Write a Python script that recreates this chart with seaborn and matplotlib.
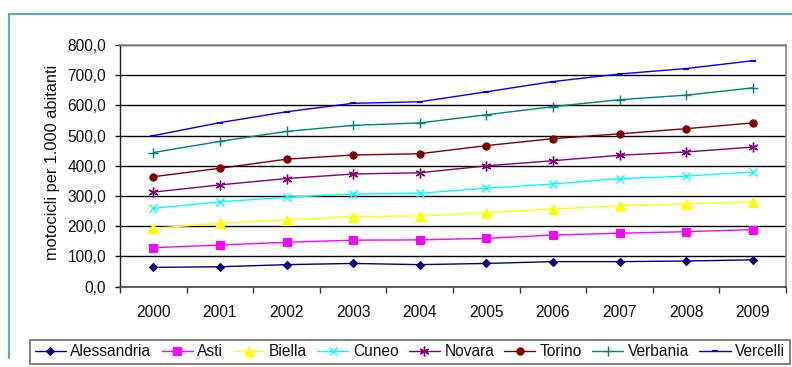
import matplotlib
matplotlib.use("Agg")
import matplotlib.pyplot as plt
from matplotlib.lines import Line2D
import seaborn as sns
import pandas as pd

# --- data: motorcycles per 1,000 inhabitants, Piedmont provinces ---
anni = [2000, 2001, 2002, 2003, 2004, 2005, 2006, 2007, 2008, 2009]

alessandria = [64, 66, 73, 77, 73, 77, 83, 83, 85, 89]
asti = [129, 138, 147, 154, 155, 160, 171, 177, 182, 189]
biella = [193, 210, 221, 232, 234, 245, 257, 268, 274, 281]
cuneo = [259, 281, 296, 307, 309, 326, 340, 358, 366, 380]
novara = [313, 337, 358, 373, 377, 400, 417, 435, 446, 462]
torino = [364, 392, 422, 436, 440, 467, 490, 506, 523, 542]
verbania = [444, 481, 514, 534, 542, 569, 596, 619, 634, 658]
vercelli = [500, 543, 579, 607, 612, 645, 679, 704, 722, 748]

province = ["Alessandria", "Asti", "Biella", "Cuneo",
            "Novara", "Torino", "Verbania", "Vercelli"]
valori = [alessandria, asti, biella, cuneo, novara, torino, verbania, vercelli]

y_ticks = [0, 100, 200, 300, 400, 500, 600, 700, 800]
y_labels = ["0,0", "100,0", "200,0", "300,0", "400,0",
            "500,0", "600,0", "700,0", "800,0"]
y_title = "motocicli per 1.000 abitanti"

df = pd.DataFrame({p: v for p, v in zip(province, valori)}, index=anni)
df.index.name = "anno"
long_df = df.reset_index().melt(id_vars="anno", var_name="provincia",
                                value_name="valore")

# --- styling per series (Excel classic palette) ---
stili = {
    "Alessandria": dict(color="#000080", marker="D", ms=4.2, mew=0.8),
    "Asti":        dict(color="#FF00FF", marker="s", ms=5.8, mew=0.8),
    "Biella":      dict(color="#FFFF00", marker="^", ms=6.5, mew=0.8),
    "Cuneo":       dict(color="#00FFFF", marker="x", ms=6.0, mew=1.0),
    "Novara":      dict(color="#800080", marker=(6, 2, 0), ms=7.0, mew=1.0),
    "Torino":      dict(color="#800000", marker="o", ms=5.2, mew=0.8),
    "Verbania":    dict(color="#008080", marker="+", ms=6.5, mew=1.0),
    "Vercelli":    dict(color="#0000FF", marker="_", ms=4.5, mew=1.5),
}

sns.set_theme(style="white")
plt.rcParams["font.family"] = ["Liberation Sans", "DejaVu Sans"]

W, H = 792, 367
fig = plt.figure(figsize=(W / 100, H / 100), dpi=100)
fig.patch.set_facecolor("white")

# plot area in pixel terms
x0, x1 = 120, 786
y_top, y_bot = 45, 286.7
ax = fig.add_axes([x0 / W, 1 - y_bot / H, (x1 - x0) / W, (y_bot - y_top) / H])
ax.set_facecolor("white")

handles = []
for prov in province:
    st = stili[prov]
    sub = long_df[long_df["provincia"] == prov]
    sns.lineplot(data=sub, x="anno", y="valore", ax=ax,
                 color=st["color"], linewidth=1.0,
                 marker=st["marker"], markersize=st["ms"],
                 markeredgewidth=st["mew"], markeredgecolor=st["color"],
                 markerfacecolor=st["color"], legend=False, zorder=3)
    handles.append(Line2D([], [], color=st["color"], linewidth=1.0,
                          marker=st["marker"], markersize=st["ms"],
                          markeredgewidth=st["mew"],
                          markeredgecolor=st["color"],
                          markerfacecolor=st["color"], label=prov))

# axes limits and ticks
ax.set_xlim(anni[0] - 0.5, anni[-1] + 0.5)
ax.set_ylim(y_ticks[0], y_ticks[-1])
ax.set_xticks(anni)
ax.set_xticklabels([str(a) for a in anni])
ax.set_xticks([a - 0.5 for a in anni] + [anni[-1] + 0.5], minor=True)
ax.set_yticks(y_ticks)
ax.set_yticklabels(y_labels)
ax.set_xlabel("")
ax.set_ylabel("")

ax.tick_params(axis="x", which="major", length=0, pad=13.5,
               labelsize=11.2, labelcolor="#111111")
ax.tick_params(axis="x", which="minor", length=4, width=1.0,
               color="#333333", direction="out", bottom=True)
ax.tick_params(axis="y", which="major", length=3.5, width=1.0,
               color="#111111", direction="out", left=True, pad=6.5,
               labelsize=11.2, labelcolor="#111111")

ax.yaxis.grid(True, color="black", linewidth=1.0)
ax.xaxis.grid(False)
ax.set_axisbelow(True)

for side in ["top", "right"]:
    ax.spines[side].set_visible(True)
    ax.spines[side].set_color("#8c8c8c")
    ax.spines[side].set_linewidth(1.2)
ax.spines["left"].set_color("#222222")
ax.spines["left"].set_linewidth(1.0)
ax.spines["bottom"].set_color("#444444")
ax.spines["bottom"].set_linewidth(1.2)

fig.text(53 / W, 1 - 162.5 / H, y_title, rotation=90, ha="center",
         va="center", fontsize=11.8, color="#111111")

# legend across the bottom
leg = fig.legend(handles=handles, loc="lower left",
                 bbox_to_anchor=(30 / W, 1 - 364 / H, 760 / W, 26 / H),
                 mode="expand", ncol=8, numpoints=1, frameon=True,
                 fancybox=False, borderpad=0.3, handlelength=2.0,
                 handletextpad=0.3, columnspacing=0.5, borderaxespad=0,
                 fontsize=11.2)
leg.get_frame().set_edgecolor("#7a7a7a")
leg.get_frame().set_linewidth(1.3)
leg.get_frame().set_facecolor("white")
leg.get_frame().set_alpha(1)
for t in leg.get_texts():
    t.set_color("#111111")

# light blue outer frame (top and left edges)
frame_col = "#5aa8dc"
fig.add_artist(Line2D([9 / W, 1.0], [1 - 13.5 / H, 1 - 13.5 / H],
                      transform=fig.transFigure, color=frame_col, lw=1.6))
fig.add_artist(Line2D([9 / W, 9 / W], [1 - 13.5 / H, 1 - 358 / H],
                      transform=fig.transFigure, color=frame_col, lw=1.6))

fig.savefig("out.png", dpi=100, facecolor="white")
